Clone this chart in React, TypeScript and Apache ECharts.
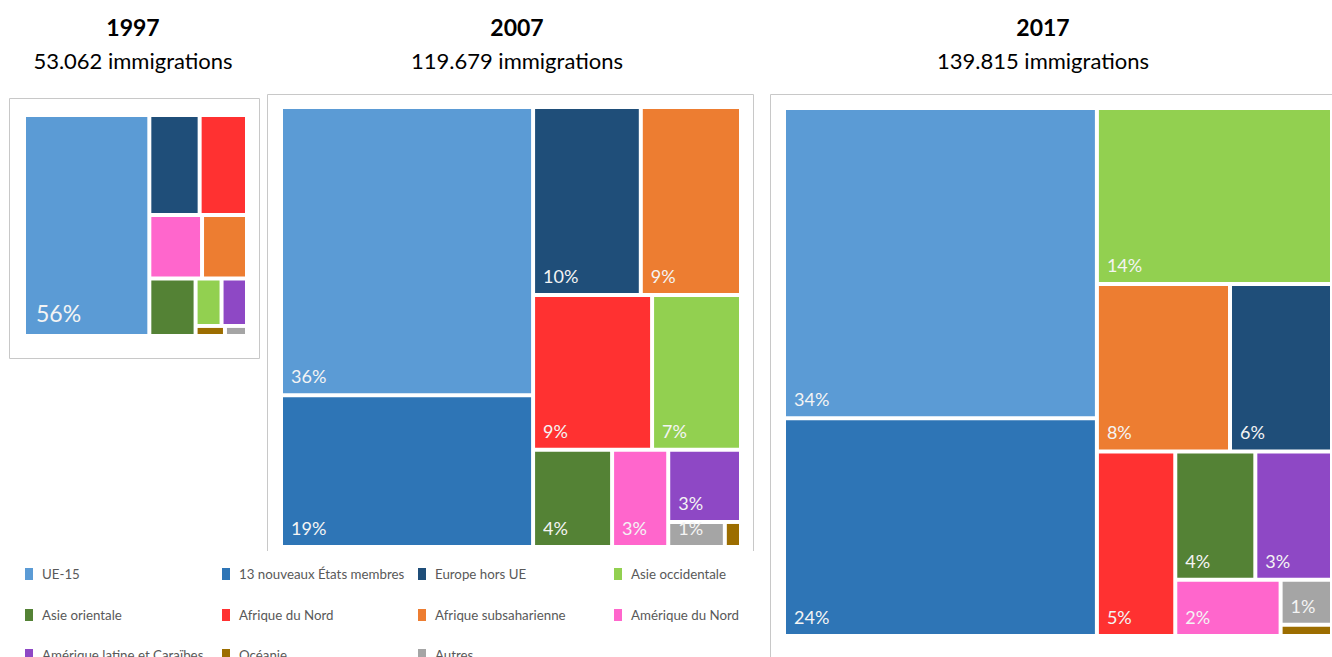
import React, { useEffect, useRef } from 'react';
import * as echarts from 'echarts';

// Categories (legend order) and their colours
const categories = [
  'UE-15',
  '13 nouveaux États membres',
  'Europe hors UE',
  'Asie occidentale',
  'Asie orientale',
  'Afrique du Nord',
  'Afrique subsaharienne',
  'Amérique du Nord',
  'Amérique latine et Caraïbes',
  'Océanie',
  'Autres',
];
const colors = [
  '#5B9BD5', '#2E75B6', '#1F4E79', '#92D050', '#548235', '#FF3131',
  '#ED7D31', '#FF66CC', '#8E48C5', '#9C6D00', '#A5A5A5',
];

const years = ['1997', '2007', '2017'];
const totals = [53062, 119679, 139815];

// Shares (%) of each category, same order as categories
const shares1997 = [56.2, 0, 10.2, 2.5, 5.4, 9.6, 5.8, 6.8, 2.45, 0.6, 0.45];
const shares2007 = [35.9, 18.9, 10.0, 6.8, 3.8, 9.1, 9.3, 2.7, 2.6, 0.2, 0.7];
const shares2017 = [33.55, 23.55, 5.9, 14.3, 3.55, 5.0, 7.7, 2.05, 3.4, 0.2, 0.8];

const fmtThousands = (n: number) => String(n).replace(/\B(?=(\d{3})+(?!\d))/g, '.');

const FONT = 'Lato, "Open Sans", sans-serif';

export default function App() {
  const ref = useRef<HTMLDivElement>(null);

  useEffect(() => {
    if (!ref.current) return;
    const chart = echarts.init(ref.current, undefined, { renderer: 'svg' });

    const panels = [
      { shares: shares1997, left: 26, top: 117, width: 219, height: 217, ratio: 1.25, labelMin: 20, fontSize: 23, distance: 10, cx: 133 },
      { shares: shares2007, left: 283, top: 109, width: 456, height: 436, ratio: 1, labelMin: 0.5, fontSize: 18, distance: 8, cx: 517 },
      { shares: shares2017, left: 786, top: 110, width: 544, height: 524, ratio: 0.849, labelMin: 0.5, fontSize: 18, distance: 8, cx: 1043 },
    ];

    const series = panels.map((p) => ({
      type: 'treemap',
      left: p.left,
      top: p.top,
      width: p.width,
      height: p.height,
      squareRatio: p.ratio,
      sort: 'desc',
      roam: false,
      nodeClick: false,
      silent: true,
      breadcrumb: { show: false },
      itemStyle: { borderWidth: 0, gapWidth: 4, borderColor: '#ffffff' },
      upperLabel: { show: false },
      label: {
        show: true,
        position: 'insideBottomLeft',
        distance: p.distance,
        padding: 0,
        fontFamily: FONT,
        fontSize: p.fontSize,
        color: '#F4F4F4',
        overflow: 'none',
        formatter: (params: any) => {
          const v = Number(params.value);
          return v >= p.labelMin ? Math.round(v) + '%' : '';
        },
      },
      data: categories
        .map((name, i) => ({ name, value: p.shares[i], itemStyle: { color: colors[i] } }))
        .filter((d) => d.value > 0),
    }));

    const graphics: any[] = [];
    // Titles
    panels.forEach((p, i) => {
      graphics.push({
        type: 'text',
        x: p.cx,
        y: 27,
        style: {
          text: years[i],
          font: `bold 23px ${FONT}`,
          fill: '#000',
          align: 'center',
          verticalAlign: 'middle',
          textAlign: 'center',
          textVerticalAlign: 'middle',
        },
      });
      graphics.push({
        type: 'text',
        x: p.cx,
        y: 60,
        style: {
          text: fmtThousands(totals[i]) + ' immigrations',
          font: `22px ${FONT}`,
          fill: '#000',
          align: 'center',
          verticalAlign: 'middle',
          textAlign: 'center',
          textVerticalAlign: 'middle',
        },
      });
    });
    // Panel borders
    const borderStyle = { stroke: '#C8C8C8', lineWidth: 1, fill: 'none' };
    graphics.push({ type: 'rect', shape: { x: 9.5, y: 98.5, width: 250, height: 260 }, style: borderStyle });
    graphics.push({ type: 'polyline', shape: { points: [[267.5, 551], [267.5, 94.5], [753.5, 94.5], [753.5, 551]] }, style: borderStyle });
    graphics.push({ type: 'polyline', shape: { points: [[770.5, 657], [770.5, 94.5], [1332, 94.5]] }, style: borderStyle });
    // Legend
    const colX = [25, 222, 418, 614];
    const rowY = [574, 615, 655];
    categories.forEach((name, i) => {
      const cx = colX[i % 4];
      const cy = rowY[Math.floor(i / 4)];
      graphics.push({ type: 'rect', shape: { x: cx, y: cy - 6, width: 8, height: 12 }, style: { fill: colors[i] } });
      graphics.push({
        type: 'text',
        x: cx + 17,
        y: cy,
        style: {
          text: name,
          font: `13.3px ${FONT}`,
          fill: '#595959',
          align: 'left',
          verticalAlign: 'middle',
          textAlign: 'left',
          textVerticalAlign: 'middle',
        },
      });
    });

    chart.setOption({
      animation: false,
      backgroundColor: '#ffffff',
      series,
      graphic: { elements: graphics },
    } as any);

    return () => chart.dispose();
  }, []);

  return (
    <div
      ref={ref}
      style={{ position: 'fixed', left: 0, top: 0, width: 1332, height: 657, background: '#fff' }}
    />
  );
}
